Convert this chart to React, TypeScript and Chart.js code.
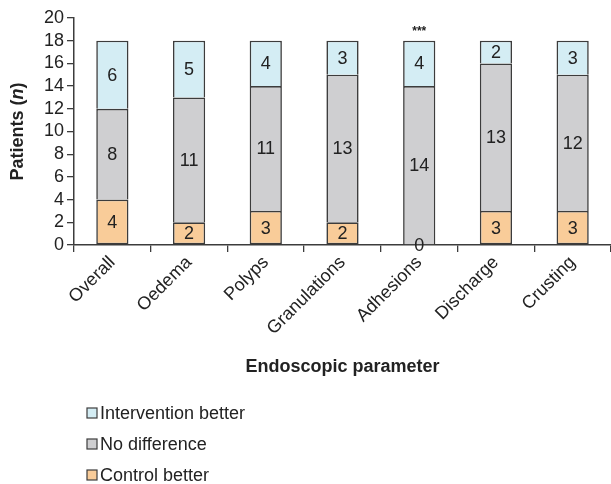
import { useEffect, useRef } from 'react';
import { Chart, registerables } from 'chart.js';

Chart.register(...registerables);

const categories = ['Overall', 'Oedema', 'Polyps', 'Granulations', 'Adhesions', 'Discharge', 'Crusting'];
const controlBetter = [4, 2, 3, 2, 0, 3, 3];
const noDifference = [8, 11, 11, 13, 14, 13, 12];
const interventionBetter = [6, 5, 4, 3, 4, 2, 3];
const significance = ['', '', '', '', '***', '', ''];
const seriesNames = ['Control better', 'No difference', 'Intervention better'];
const seriesColors = ['#f9cc99', '#cfcfd1', '#d4edf4'];
const yMin = 0;
const yMax = 20;
const yStep = 2;
const xTitle = 'Endoscopic parameter';

const FONT = '"Liberation Sans", Arial, Helvetica, sans-serif';
const TEXT = '#222222';
const EDGE = '#3c3c3c';

const annotations = {
  id: 'annotations',
  afterDatasetsDraw(chart: any) {
    const ctx = chart.ctx;
    ctx.save();
    ctx.font = `18px ${FONT}`;
    ctx.fillStyle = TEXT;
    ctx.textAlign = 'center';
    ctx.textBaseline = 'middle';
    chart.data.datasets.forEach((ds: any, i: number) => {
      const meta = chart.getDatasetMeta(i);
      meta.data.forEach((el: any, j: number) => {
        const v = ds.data[j];
        const y = (el.y + el.base) / 2;
        ctx.fillText(String(v), el.x, y + 1);
      });
    });
    const lastMeta = chart.getDatasetMeta(chart.data.datasets.length - 1);
    ctx.font = `bold 12px ${FONT}`;
    significance.forEach((s, j) => {
      if (!s) return;
      const el = lastMeta.data[j];
      ctx.fillText(s, el.x, el.y - 9);
    });
    ctx.restore();
  },
  afterDraw(chart: any) {
    const ctx = chart.ctx;
    const area = chart.chartArea;
    ctx.save();
    // y-axis title with italic n
    ctx.translate(18, (area.top + area.bottom) / 2);
    ctx.rotate(-Math.PI / 2);
    ctx.fillStyle = TEXT;
    ctx.textBaseline = 'middle';
    ctx.textAlign = 'left';
    const partA = 'Patients (';
    const partB = 'n';
    const partC = ')';
    const fA = `bold 18px ${FONT}`;
    const fB = `italic bold 18px ${FONT}`;
    ctx.font = fA;
    const wA = ctx.measureText(partA).width;
    const wC = ctx.measureText(partC).width;
    ctx.font = fB;
    const wB = ctx.measureText(partB).width;
    let x = -(wA + wB + wC) / 2;
    ctx.font = fA;
    ctx.fillText(partA, x, 0);
    x += wA;
    ctx.font = fB;
    ctx.fillText(partB, x, 0);
    x += wB;
    ctx.font = fA;
    ctx.fillText(partC, x, 0);
    ctx.restore();

    // legend, stacked vertically, top series first
    ctx.save();
    ctx.font = `18px ${FONT}`;
    ctx.textBaseline = 'middle';
    ctx.textAlign = 'left';
    const order = [2, 1, 0];
    order.forEach((idx, k) => {
      const cy = 413 + k * 31;
      ctx.fillStyle = seriesColors[idx];
      ctx.fillRect(87, cy - 5, 10, 10);
      ctx.strokeStyle = EDGE;
      ctx.lineWidth = 1.2;
      ctx.strokeRect(87, cy - 5, 10, 10);
      ctx.fillStyle = TEXT;
      ctx.fillText(seriesNames[idx], 100, cy + 1);
    });
    ctx.restore();
  },
};

export default function App() {
  const ref = useRef<HTMLCanvasElement | null>(null);
  useEffect(() => {
    if (!ref.current) return;
    const values = [controlBetter, noDifference, interventionBetter];
    const chart = new Chart(ref.current, {
      type: 'bar',
      data: {
        labels: categories,
        datasets: values.map((d, i) => ({
          label: seriesNames[i],
          data: d,
          backgroundColor: seriesColors[i],
          borderColor: EDGE,
          borderWidth: i === 0
            ? { top: 1.6, bottom: 1.6, left: 1.6, right: 1.6 }
            : { top: 1.6, bottom: 0, left: 1.6, right: 1.6 },
          borderSkipped: false,
          categoryPercentage: 1,
          barPercentage: 0.42,
        })),
      },
      options: {
        animation: false,
        responsive: true,
        maintainAspectRatio: false,
        devicePixelRatio: 1,
        layout: { padding: { top: 18, right: 0, bottom: 104, left: 0 } },
        plugins: { legend: { display: false }, tooltip: { enabled: false } },
        scales: {
          x: {
            stacked: true,
            grid: { display: true, drawOnChartArea: false, drawTicks: true, tickLength: 7, color: EDGE, lineWidth: 1.3, offset: true },
            border: { display: true, color: EDGE, width: 1.5 },
            ticks: { font: { family: FONT, size: 18 }, color: TEXT, minRotation: 45, maxRotation: 45, autoSkip: false, padding: 0 },
            title: { display: true, text: xTitle, font: { family: FONT, size: 18, weight: 'bold' }, color: TEXT, padding: { top: 0, bottom: 2 } },
            afterFit: (s: any) => {
              s.height = 135;
              s.paddingLeft = 0;
              s.paddingRight = 0;
            },
          },
          y: {
            stacked: true,
            min: yMin,
            max: yMax,
            grid: { display: true, drawOnChartArea: false, drawTicks: true, tickLength: 7, color: EDGE, lineWidth: 1.3 },
            border: { display: true, color: EDGE, width: 1.5 },
            ticks: { stepSize: yStep, autoSkip: false, font: { family: FONT, size: 18 }, color: TEXT, padding: 3 },
            afterFit: (s: any) => {
              s.width = 74;
              s.paddingTop = 0;
              s.paddingBottom = 0;
            },
          },
        },
      } as any,
      plugins: [annotations],
    });
    return () => chart.destroy();
  }, []);
  return (
    <div style={{ position: 'fixed', left: 0, top: 0, width: 611, height: 484, background: '#fff' }}>
      <canvas ref={ref} />
    </div>
  );
}
